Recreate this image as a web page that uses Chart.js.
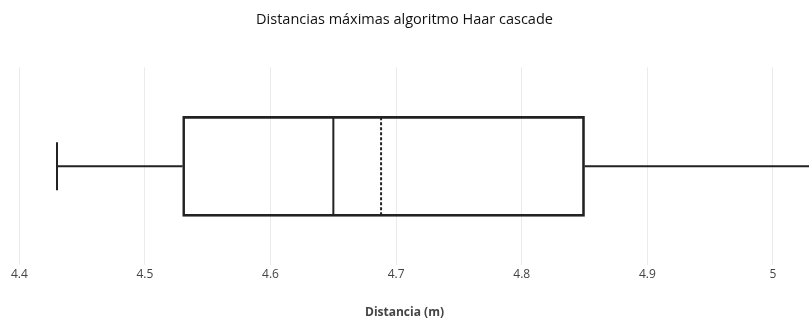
<!DOCTYPE html>
<html>
<head>
<meta charset="utf-8">
<script src="https://cdn.jsdelivr.net/npm/chart.js@4"></script>
<style>
  html, body { margin: 0; padding: 0; background: #fff; overflow: hidden; }
  #wrap { width: 809px; height: 320px; }
</style>
</head>
<body>
<div id="wrap"><canvas id="boxChart"></canvas></div>
<script>
// Datos del boxplot (distancia en metros)
const categorias = ['Haar cascade'];
const minimos = [4.43];
const cuartil1 = [4.53];
const medianas = [4.65];
const medias = [4.688];
const cuartil3 = [4.85];
const maximos = [5.035];
const ticksX = [4.4, 4.5, 4.6, 4.7, 4.8, 4.9, 5];

// Bigotes, mediana y media dibujados con las escalas del grafico
const bigotesPlugin = {
    id: 'bigotes',
    afterDatasetsDraw(chart) {
        const ctx = chart.ctx;
        const x = chart.scales.x;
        const y = chart.scales.y;
        const area = chart.chartArea;
        ctx.save();
        ctx.beginPath();
        ctx.rect(area.left, area.top, area.right - area.left, area.bottom - area.top);
        ctx.clip();
        ctx.strokeStyle = '#222';
        ctx.lineWidth = 2;
        categorias.forEach((c, i) => {
            const yc = y.getPixelForValue(i);
            const half = 49;
            const cap = 24;
            const px = v => x.getPixelForValue(v);

            ctx.setLineDash([]);
            ctx.beginPath();
            ctx.moveTo(px(minimos[i]), yc);
            ctx.lineTo(px(cuartil1[i]), yc);
            ctx.moveTo(px(cuartil3[i]), yc);
            ctx.lineTo(px(maximos[i]), yc);
            ctx.moveTo(px(minimos[i]), yc - cap);
            ctx.lineTo(px(minimos[i]), yc + cap);
            ctx.moveTo(px(maximos[i]), yc - cap);
            ctx.lineTo(px(maximos[i]), yc + cap);
            ctx.moveTo(px(medianas[i]), yc - half);
            ctx.lineTo(px(medianas[i]), yc + half);
            ctx.stroke();

            ctx.setLineDash([3, 2]);
            ctx.beginPath();
            ctx.moveTo(px(medias[i]), yc - half);
            ctx.lineTo(px(medias[i]), yc + half);
            ctx.stroke();
        });
        ctx.restore();
    }
};

const ctx = document.getElementById('boxChart').getContext('2d');
new Chart(ctx, {
    type: 'bar',
    data: {
        labels: categorias,
        datasets: [{
            label: 'Distancia',
            data: categorias.map((c, i) => [cuartil1[i], cuartil3[i]]),
            backgroundColor: 'rgba(255,255,255,0)',
            borderColor: '#222',
            borderWidth: 2,
            borderSkipped: false,
            barThickness: 100
        }]
    },
    options: {
        indexAxis: 'y',
        responsive: true,
        maintainAspectRatio: false,
        animation: false,
        layout: { padding: { top: 2, left: 0, right: 0, bottom: 0 } },
        plugins: {
            legend: { display: false },
            tooltip: { enabled: false },
            title: {
                display: true,
                text: 'Distancias máximas algoritmo Haar cascade',
                color: '#111',
                font: { family: 'Open Sans', size: 14.5, weight: 'normal' },
                padding: { top: 9, bottom: 39 }
            }
        },
        scales: {
            x: {
                type: 'linear',
                min: 4.3846,
                max: 5.0287,
                afterBuildTicks: scale => {
                    scale.ticks = ticksX.map(v => ({ value: v }));
                },
                ticks: {
                    color: '#444',
                    font: { family: 'Open Sans', size: 12 },
                    padding: 2,
                    maxRotation: 0,
                    callback: v => String(+v.toFixed(2))
                },
                grid: { color: '#ebebeb', drawTicks: false },
                border: { display: false },
                title: {
                    display: true,
                    text: 'Distancia (m)',
                    color: '#444',
                    font: { family: 'Open Sans', size: 12, weight: 'bold' },
                    padding: { top: 22, bottom: 0 }
                }
            },
            y: {
                display: false
            }
        }
    },
    plugins: [bigotesPlugin]
});
</script>
</body>
</html>
